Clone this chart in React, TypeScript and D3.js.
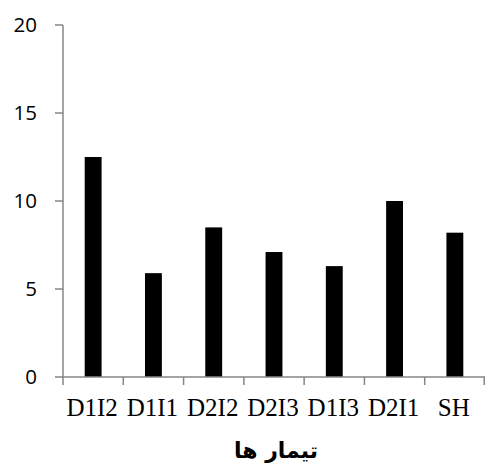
import React from "react";
import * as d3 from "d3";

const categories = ["D1I2", "D1I1", "D2I2", "D2I3", "D1I3", "D2I1", "SH"];
const values = [12.5, 5.9, 8.5, 7.1, 6.3, 10.0, 8.2];
const yTicks = [0, 5, 10, 15, 20];
const xTitle = "تیمار ها";

export default function App() {
  const W = 485, H = 468;
  const left = 63, right = 485, top = 25, bottom = 377;
  const x = d3.scaleBand<string>().domain(categories).range([left, right]).paddingInner(0.72).paddingOuter(0.36);
  const xb = d3.scaleBand<string>().domain(categories).range([left, right]);
  const y = d3.scaleLinear().domain([0, 20]).range([bottom, top]);
  const axisColor = "#868686";
  return (
    <svg width={W} height={H} style={{ position: "absolute", left: 0, top: 0 }}>
      <rect x={0} y={0} width={W} height={H} fill="#fff" />
      {categories.map((c, i) => (
        <rect key={c} x={x(c)} y={y(values[i])} width={x.bandwidth()} height={y(0) - y(values[i])} fill="#000" />
      ))}
      <line x1={left} x2={left} y1={top} y2={bottom} stroke={axisColor} strokeWidth={1.5} />
      <line x1={left} x2={right} y1={bottom} y2={bottom} stroke={axisColor} strokeWidth={1.5} />
      {yTicks.map((t) => (
        <g key={t}>
          <line x1={left - 8} x2={left} y1={y(t)} y2={y(t)} stroke={axisColor} strokeWidth={1.5} />
          <text x={37} y={y(t)} dy="0.36em" textAnchor="end" fontFamily="Open Sans, sans-serif" fontSize={20.5} fill="#000">{t}</text>
        </g>
      ))}
      {categories.map((c) => (
        <line key={"t" + c} x1={xb(c)} x2={xb(c)} y1={bottom} y2={bottom + 8} stroke={axisColor} strokeWidth={1.5} />
      ))}
      <line x1={right - 0.75} x2={right - 0.75} y1={bottom} y2={bottom + 8} stroke={axisColor} strokeWidth={1.5} />
      {categories.map((c) => (
        <text key={"l" + c} x={xb(c)! + xb.bandwidth() / 2 - 1} y={416} textAnchor="middle" fontFamily="Liberation Serif, Times New Roman, serif" fontSize={25} fill="#000">{c}</text>
      ))}
      <text x={276} y={458} textAnchor="middle" fontFamily="DejaVu Sans, Noto Sans, sans-serif" fontWeight="bold" fontSize={22} fill="#000" direction="rtl">{xTitle}</text>
    </svg>
  );
}
